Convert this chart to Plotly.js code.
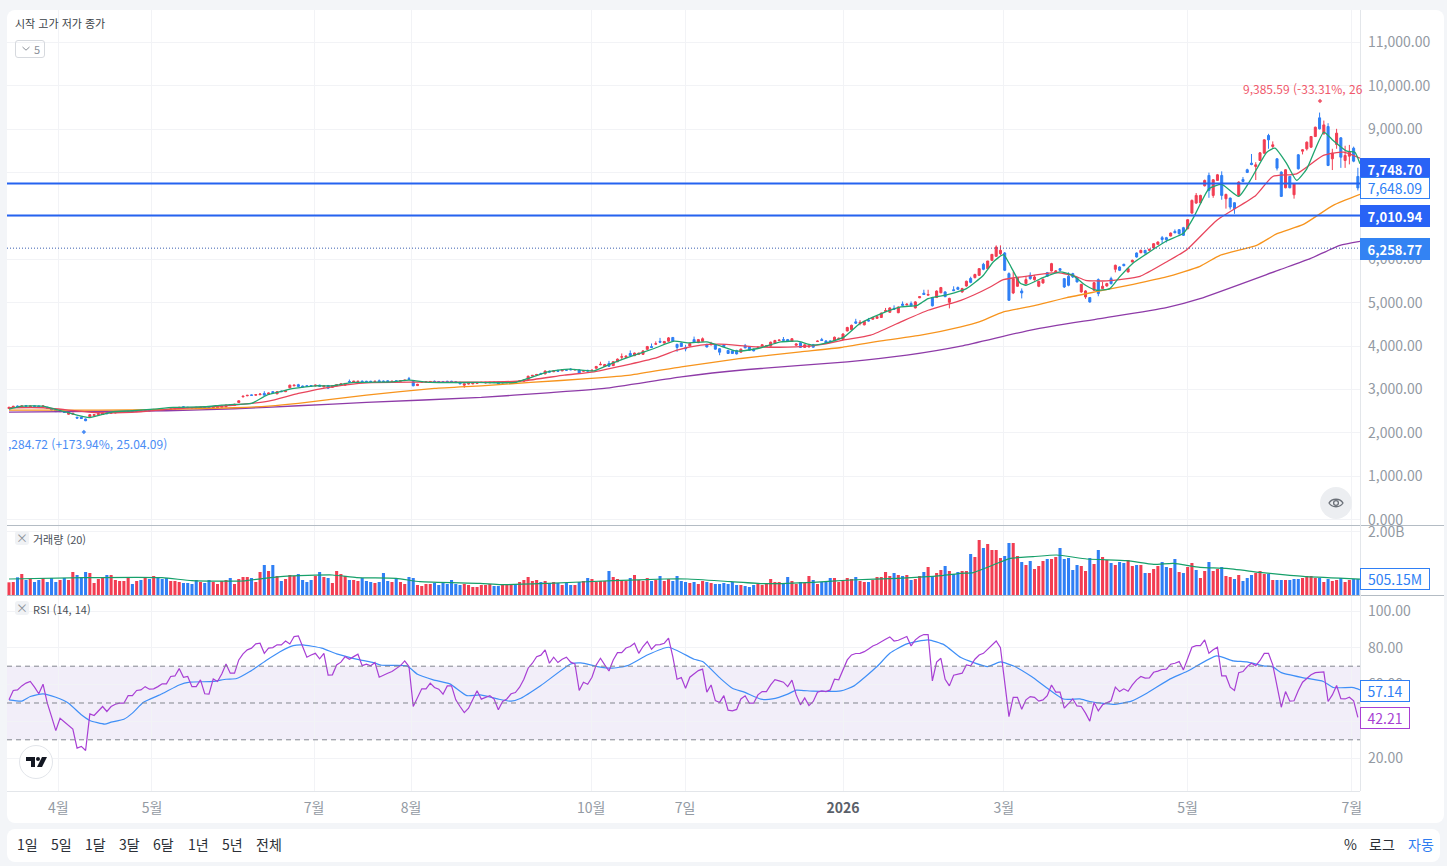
<!DOCTYPE html>
<html lang="ko">
<head>
<meta charset="utf-8">
<title>차트</title>
<script src="https://cdn.plot.ly/plotly-3.0.1.min.js"></script>
<style>
  html, body { margin: 0; padding: 0; background: #f3f5f8; width: 1447px; height: 866px; overflow: hidden; font-family: "Noto Sans CJK KR", "Noto Sans", sans-serif; }
  .panel { position: absolute; background: #fff; border-radius: 8px; }
  #chart { position: absolute; left: 0; top: 0; width: 1447px; height: 866px; }
  .btn { position: absolute; top: 835px; font-size: 14px; line-height: 18px; color: #2b2f36; }
  .chip { position: absolute; left: 15px; width: 14px; height: 14px; background: #f0f2f5; border-radius: 3px; color: #8b9098; font-size: 12px; line-height: 13px; text-align: center; }
  .round { position: absolute; border-radius: 50%; }
  .fold { position: absolute; left: 15px; top: 40px; width: 28px; height: 16px; border: 1px solid #d6d9de; border-radius: 3px; font-size: 11px; line-height: 16px; color: #8b9098; }
  .fold span { position: absolute; left: 18px; top: 0; }
  .fold svg { position: absolute; left: 5px; top: 4px; }
</style>
</head>
<body>
<div class="panel" style="left:7px;top:10px;width:1437px;height:813px"></div>
<div class="panel" style="left:7px;top:829px;width:1433px;height:33px"></div>
<div id="chart"></div>
<div class="fold"><svg width="10" height="8" viewBox="0 0 10 8"><path d="M1.5 2l3.5 3.2L8.5 2" fill="none" stroke="#8b9098" stroke-width="1"/></svg><span>5</span></div>
<div class="chip" style="top:531px">×</div>
<div class="chip" style="top:601px">×</div>
<div class="round" style="left:1320px;top:487px;width:32px;height:32px;background:#eceef1">
  <svg width="32" height="32" viewBox="0 0 32 32"><path d="M9 16c3-5 11-5 14 0c-3 5-11 5-14 0z" fill="none" stroke="#6b7078" stroke-width="1.3"/><circle cx="16" cy="16" r="2.4" fill="none" stroke="#6b7078" stroke-width="1.3"/></svg>
</div>
<div class="round" style="left:19px;top:745px;width:32px;height:32px;background:#fff;border:1px solid #e2e5ea">
  <svg width="32" height="32" viewBox="0 0 32 32"><path d="M6 11h9v10h-4v-6H6z" fill="#131722"/><circle cx="18" cy="13" r="2" fill="#131722"/><path d="M22 11h5l-5 10h-5z" fill="#131722"/></svg>
</div>
<div class="btn" style="left:17px">1일</div>
<div class="btn" style="left:51px">5일</div>
<div class="btn" style="left:85px">1달</div>
<div class="btn" style="left:119px">3달</div>
<div class="btn" style="left:153px">6달</div>
<div class="btn" style="left:188px">1년</div>
<div class="btn" style="left:222px">5년</div>
<div class="btn" style="left:256px">전체</div>
<div class="btn" style="left:1344px">%</div>
<div class="btn" style="left:1369px">로그</div>
<div class="btn" style="left:1408px;color:#2f7df0">자동</div>
<script>
const openPrice = [
  2560,2590,2620,2600,2630,2600,2625,2620,2600,2590, 2560,2530,2490,2500,2430,2430,2360,2360,2320,2370,
  2400,2420,2430,2470,2450,2460,2470,2480,2490,2510, 2490,2520,2510,2530,2520,2540,2545,2540,2530,2550,
  2560,2600,2590,2585,2590,2570,2590,2590,2570,2580, 2590,2600,2650,2630,2700,2830,2855,2875,2870,2880,
  2910,2890,2950,2900,2960,2950,3040,3085,3110,3080, 3085,3090,3080,3100,3060,3090,3050,3085,3100,3100,
  3185,3170,3180,3190,3190,3190,3180,3200,3195,3200, 3180,3200,3190,3205,3250,3180,3090,3170,3170,3165,
  3190,3185,3185,3190,3190,3180,3165,3100,3125,3130,3140,
  3160,3150,3155,3170,3170,3150,3155,3160,3175,3180, 3190,3220,3310,3335,3370,3360,3420,3410,3440,3430,
  3455,3470,3450,3450,3420,3440,3430,3490,3570,3530, 3600,3550,3640,3745,3740,3830,3780,3810,3810,3925,
  3990,4045,4110,4070,4115,4200,4040,4070,3960,4000, 4150,4080,4110,4040,4030,4030,3940,4030,3900,3890,
  3900,3860,4010,3985,3930,3950,4000,3990,4000,4060, 4130,4150,4150,4110,4020,4075,3970,3980,4035,4105,
  4150,4120,4120,4125,4170,4150,4350,4380,4560,4520, 4490,4600,4620,4640,4660,4800,4780,4870,4770,4970,
  4950,4980,4880,5115,5220,5175,5120,5120,5230,5250, 5010,5300,5350,
  5249,5387,5560,5580,5633,5886,5786,5978,6070,6132, 6147,5671,5226,5380,5272,5441,5633,5533,5380,5456,
  5694,5733,5710,5786,5556,5610,5671,5579,5249,5134, 5119,5288,5533,5326,5387,5556,5771,5825,5886,5710,
  5940,6147,6155,6208,6208,6262,6347,6500,6500,6538, 6645,6684,6730,6707,7068,7298,7306,7697,7935,7475,
  7820,7935,7398,7413,7306,7475,7843,8066,8219,8142, 8280,8449,8856,8603,8319,8012,7651,7912,7490,8411,
  8495,8549,8587,8833,9263,8894,9063,8319,8649,8802, 8280,8380,8564,7912
];
const closePrice = [
  2590,2610,2600,2620,2610,2620,2610,2600,2620,2570, 2530,2490,2510,2470,2490,2450,2340,2330,2280,2420,
  2420,2440,2460,2440,2470,2470,2480,2490,2500,2490, 2510,2500,2520,2510,2540,2520,2530,2530,2550,2570,
  2590,2590,2580,2575,2570,2590,2580,2570,2590,2600, 2620,2640,2630,2660,2740,2845,2865,2865,2880,2895,
  2870,2920,2930,2950,2950,2970,3100,3100,3070,3060, 3075,3080,3100,3075,3090,3030,3090,3110,3130,3140,
  3170,3190,3190,3175,3180,3180,3190,3170,3180,3180, 3190,3190,3205,3215,3235,3085,3120,3175,3180,3185,
  3175,3170,3170,3175,3170,3160,3130,3130,3140,3150,3160,
  3165,3165,3165,3160,3130,3160,3165,3170,3160,3200, 3220,3305,3325,3345,3360,3425,3400,3430,3420,3450,
  3445,3455,3460,3375,3435,3425,3445,3530,3580,3575, 3535,3640,3700,3755,3770,3780,3840,3835,3890,3990,
  3970,4055,4090,4105,4190,4110,3970,3990,3940,4060, 4090,4150,4170,3980,4060,3930,3860,3990,3830,3830,
  3820,3930,3960,3905,3890,3960,4030,4010,4090,4130, 4140,4135,4110,4170,4050,3970,4030,4000,3975,4115,
  4130,4070,4085,4205,4180,4280,4430,4480,4530,4550, 4570,4580,4660,4680,4760,4820,4880,4850,4900,4940,
  4965,4930,5020,5140,5190,5190,4930,5270,5350,5140, 5100,5280,5310,
  5326,5495,5470,5650,5786,5771,5963,6116,6285,6208, 5748,5057,5556,5579,5226,5533,5556,5595,5495,5541,
  5610,5902,5733,5748,5364,5403,5595,5480,5426,5272, 5019,5464,5211,5380,5441,5441,5863,5748,5855,5786,
  5978,6055,6208,6147,6232,6362,6400,6460,6454,6607, 6615,6592,6554,6915,7360,7475,7475,7820,7590,7835,
  7950,7475,7498,7206,7168,7782,7797,8004,8188,8180, 8457,8756,8756,8641,8104,7452,8066,7651,7743,8089,
  8526,8702,8833,9048,9010,9101,8165,8449,8910,8357, 8396,8472,8265,7648
];
const highPrice = [
  2600,2625,2630,2635,2640,2635,2635,2630,2630,2600, 2570,2540,2520,2510,2500,2460,2370,2370,2330,2430,
  2435,2470,2470,2480,2480,2480,2490,2500,2510,2520, 2520,2530,2530,2540,2550,2550,2555,2550,2560,2580,
  2600,2610,2600,2595,2600,2600,2600,2600,2600,2610, 2630,2650,2660,2670,2750,2855,2875,2885,2890,2910,
  2960,2930,2960,2960,2975,2985,3110,3110,3130,3090, 3095,3100,3110,3110,3100,3105,3100,3120,3145,3150,
  3230,3200,3200,3210,3200,3200,3200,3230,3205,3210, 3200,3210,3215,3225,3290,3190,3130,3185,3190,3195,
  3205,3195,3195,3200,3200,3190,3175,3135,3150,3160,3170,
  3175,3175,3175,3180,3180,3170,3175,3180,3185,3210, 3235,3320,3335,3360,3385,3440,3435,3445,3455,3465,
  3470,3490,3475,3470,3450,3455,3460,3545,3640,3590, 3660,3655,3715,3830,3785,3900,3850,3850,3905,4005,
  4060,4110,4190,4120,4210,4210,4055,4085,4030,4075, 4220,4165,4200,4055,4100,4045,3955,4045,3915,3905,
  3915,3945,4050,4000,3945,4000,4045,4020,4105,4145, 4150,4210,4165,4185,4065,4090,4045,4040,4050,4130,
  4190,4135,4135,4220,4195,4295,4445,4495,4630,4600, 4585,4650,4675,4695,4775,4880,4895,4940,4915,5030,
  4990,5030,5035,5155,5300,5300,5135,5285,5365,5265, 5115,5380,5375,
  5345,5510,5600,5670,5800,5920,5800,6000,6323,6323, 6170,5700,5710,5595,5330,5610,5700,5640,5510,5560,
  5710,5920,5750,5790,5570,5700,5690,5590,5270,5290, 5130,5480,5560,5480,5460,5600,5880,5840,5900,5800,
  5995,6160,6225,6220,6245,6375,6415,6540,6520,6620, 6690,6700,6750,6930,7380,7530,7490,7840,8000,7850,
  7970,8030,7515,7425,7320,7800,7900,8090,8430,8240, 8475,8770,8895,8720,8330,8030,8080,7925,7760,8430,
  8540,8720,8845,9060,9385,9200,9140,8550,9010,8820, 8620,8640,8600,8112
];
const lowPrice = [
  2550,2580,2590,2590,2600,2590,2600,2590,2590,2560, 2520,2480,2480,2460,2420,2420,2330,2320,2270,2360,
  2390,2410,2420,2430,2440,2450,2460,2470,2480,2480, 2480,2490,2500,2500,2510,2510,2520,2520,2520,2540,
  2550,2580,2570,2565,2560,2560,2570,2560,2560,2570, 2580,2590,2620,2620,2690,2820,2845,2855,2860,2870,
  2860,2880,2920,2890,2940,2940,3030,3075,3060,3050, 3065,3070,3070,3065,3050,3020,3040,3075,3090,3090,
  3160,3160,3170,3165,3170,3170,3170,3160,3170,3170, 3170,3180,3180,3195,3225,3075,3080,3160,3160,3155,
  3165,3160,3160,3165,3160,3150,3120,3040,3115,3120,3130,
  3150,3140,3145,3150,3120,3140,3145,3150,3150,3170, 3180,3210,3300,3325,3350,3350,3390,3400,3410,3420,
  3435,3445,3440,3360,3410,3415,3420,3480,3560,3520, 3525,3540,3630,3690,3730,3770,3770,3800,3800,3915,
  3960,4035,4070,4060,4100,4095,3870,3980,3880,3990, 4080,4070,4100,3970,4020,3920,3790,3980,3820,3820,
  3810,3850,3950,3895,3880,3940,3990,3980,3990,4050, 4120,4125,4100,4100,4010,3960,3960,3970,3965,4095,
  4120,4060,4075,4115,4160,4140,4340,4370,4510,4480, 4480,4570,4610,4630,4650,4790,4770,4840,4760,4930,
  4940,4920,4870,5105,5180,5165,4915,5110,5220,5130, 4870,5270,5300,
  5230,5370,5450,5560,5620,5750,5770,5960,6060,6100, 5730,5040,5200,5370,5100,5420,5530,5510,5360,5440,
  5595,5720,5695,5730,5340,5380,5570,5470,5230,5090, 5000,5270,5150,5320,5370,5420,5700,5730,5840,5700,
  5930,6040,6140,6130,6195,6250,6330,6360,6390,6530, 6600,6570,6540,6690,7050,7280,7290,7680,7420,7420,
  7810,7375,7170,7150,7050,7460,7780,7990,8170,7830, 8270,8435,8550,8570,8050,7440,7640,7640,7400,8070,
  8420,8510,8575,8820,8995,8880,8150,8060,8550,8110, 8110,8190,8240,7590
];

// volume in millions, one entry per bar
const volume = [
  402,413,561,667,476,508,413,476,540,413, 540,413,476,540,476,730,635,571,730,698,
  381,508,571,635,635,476,444,444,571,349, 444,476,571,508,603,571,508,540,444,444,
  413,381,381,349,476,413,381,476,413,349, 444,476,540,349,508,571,571,540,413,730,
  952,762,952,603,444,508,635,603,667,476, 413,476,603,730,571,540,381,762,667,603,
  476,476,444,540,444,413,381,413,698,444, 413,540,413,349,571,540,317,286,349,349,
  381,317,413,349,476,349,317,349,317,254,254,
  317,317,349,286,286,339,339,339,339,413, 476,571,444,476,413,444,381,413,381,317,
  381,317,317,413,444,540,508,413,444,444, 762,571,508,444,444,540,635,476,444,540,
  444,476,603,444,508,444,603,444,413,381, 413,349,444,413,381,349,349,381,349,413,
  317,317,286,254,317,349,317,349,508,413, 413,349,571,444,349,413,381,603,476,349,
  413,413,540,540,413,444,540,508,571,444, 413,413,476,571,571,730,603,698,635,603,
  635,476,508,603,730,889,603,698,794,920, 762,667,730,
  762,762,1301,1206,1746,1492,1619,1428,1428,1174, 1238,1650,1650,1238,1047,952,1079,825,920,1079,
  1143,1143,1206,1492,1143,1174,794,952,920,762, 1174,984,1428,1206,1111,1016,952,1047,1016,1111,
  920,952,952,698,698,825,920,1047,889,857, 1143,730,698,889,1016,794,540,762,1047,762,
  825,889,603,571,508,635,444,540,635,698, 762,667,667,476,476,476,476,476,508,508,
  540,603,603,540,540,413,508,444,476,540, 413,476,508,505.15
];
// r = rising bar, b = falling bar
const volumeSide =
  'rrbrbrbbrb' + 'bbrbrrbbbr' + 'rrrbrrrrrb' + 'rbrbrbbbrr' + 'rbbbbrbbrr' + 'rrbrrrrbrr' +
  'brbrbrrrbb' + 'bbrbrbrrrr' + 'brrbbbrbbb' + 'rbrrbbrrrr' + 'bbbbbbbrrr' + 'r' +
  'rrrbbrrrbr' + 'rrrrbrbrbr' + 'bbrbrbrrrr' + 'brrrrbrrrr' + 'brbrrbbbbr' + 'brrbrbbbbb' +
  'brbbbrrrrr' + 'rbbrrbrrbr' + 'bbbrrrrrbr' + 'rbrrrrrbrb' + 'rbrrbrbrrb' + 'rbb' +
  'rrbrrbrrrr' + 'bbrrbrbrrr' + 'brrbbbbbrr' + 'brbrrbrbbr' + 'rbrbrrrbbr' + 'brbrrbrrbr' +
  'rbrrbrbbbr' + 'rrbrbbrbbb' + 'rrrrbrbrrb' + 'rrbb';

const rsiValues = [
  51.7,56.8,57.1,59.3,60.8,61.7,58.6,55,60.2,49.9, 42.6,35,41.7,39.9,37.6,35.8,25.5,26.4,24.2,44.1,
  43.2,45.7,48.1,45.4,48.1,49.3,49.9,49.9,54,54, 56.8,57.1,58.9,57.5,57.7,58.9,60.4,60.4,64.4,64.7,
  68.7,64,64.4,58.9,58.9,62.6,55,54.8,63.1,61.7, 65.8,71.2,66.2,66.2,73.4,76.7,78.9,79.8,82.1,82.5,
  77,79.8,80.1,81.6,81.6,83.7,82.1,86.1,86.5,80.7, 74.9,76.1,77,74,77,65.1,65.3,70.7,72.2,75.2,
  73.8,75.2,76.5,70.3,71.1,70.2,72,64,65.3,66.2, 67.1,68.5,70.3,72.9,69.8,48.1,52.6,57.7,57.7,60.8,
  58.4,57.5,54.8,59.3,59.3,51.7,48.1,44.8,47.2,52.1,56.6,
  52.1,53.1,54,52.1,46.3,50.8,52.2,55,55.7,58.6, 62.9,68.9,71.6,75.2,76,78.9,71.6,74.9,72,73.8,
  74.9,72.2,71.2,56.8,61.3,60.2,64,70.7,74.3,70.7, 67.4,73.4,77.4,77.4,79.9,80.7,82.5,77,80.7,83.4,
  79.2,81.6,81.7,82.5,85.2,75.2,62.9,63.8,58,64, 65.8,67.6,68.4,55.9,59.8,51.3,50.3,54,46.1,45.7,
  46.5,52.2,53.9,49.9,49.9,54.4,56.2,56.2,59.8,62.7, 62,61.3,58.9,62.4,54.4,49,52.8,48.6,50.8,55.9,
  56.6,56.2,57.1,62.9,62.6,67.6,73.4,76.1,76.9,77, 77.9,79.4,81,81.9,83.4,84.6,85.9,83.7,84.1,85.2,
  86.1,81,84.3,86.1,87.2,87.2,62,72.2,74.3,62.9, 59.3,65.1,65.5,
  66.2,70.7,70.2,73.8,76.1,77,79.2,81.2,83.7,80.1, 60.8,42.6,53.1,53.1,46.6,51.7,53.5,53.1,51,51.7,
  54,59.8,55.9,55.9,47.2,49.9,52.2,48.4,48.1,44.5, 40.1,50.3,45.7,49,49.9,51.2,58.6,56.2,57.7,56.4,
  59.8,62.6,64.4,63.5,63.6,66.7,67.3,68.2,68.4,71.1, 71.6,72.5,68,73.8,80.3,81.2,81.2,84.3,77,78.9,
  80.3,64.7,64.7,58.6,56.8,66.5,67.1,69.8,71.6,70.3, 73.1,77,77,70.7,58.9,47.7,56.2,51,51.2,56.8,
  61.3,63.5,65.3,66.5,66.5,66.9,50.8,54.4,59.5,52.4, 52.2,53.1,51.2,42.21
];
const rsiMaBars = [0,3,5,8,11,14,17,19,22.5,24,27,29,31.6,36,40,42.5,48,51,53.5,56.6,60.6,63.7,66.8,69,73.5,77,82.5,85.6,87.6,93.5,96,99.7,103.6,107.6,110.7,
  115,118,120.3,125,132,134.4,138.3,141.5,145.4,150,155,161,163,167.3,170,172.8,176.7,179.4,183,185,189,195.5,198.6,204,207,211,216,219.8,223.7,
  230,233,236.4,240.3,247.8,251.7,254,259.5,263.8,267.4,272.9,276.8,283.8,287.7,290.9,294.8,297,299,304,308.9,311.2,316,317.5];
const rsiMaValues = [51.7,51,53.5,55,53.1,49.9,43.6,40.5,38.5,39.6,41.2,44.5,50.4,55,59.8,61.3,61.7,62.9,63.3,67.1,73.4,77.9,81.2,81.6,79.8,76.7,73.4,72,70.5,70.2,65.6,62.6,60.4,54,54.4,
  52.1,51,52.6,59.5,71.2,71.8,69.8,68.9,70.3,76.1,80.3,73.8,72.5,63.1,58,55.9,52.1,52.2,54.8,57,56.4,56.6,59.3,69.8,77,82.1,84.3,81.6,74.7,
  69.8,72.3,69.8,64.4,52.2,52.2,50.8,49.3,51,55.3,63.1,67.1,75.6,72.9,72.3,70.2,69.6,66.5,63.8,61.7,58.4,58.4,57.14];

const ma5Bars = [0,3,8,11,14,17.5,19,22,24.5,29,34,38.6,46,50,53,57,60.6,64.5,67,72,76,81,90,94,99,110,
  119,122,126.6,131.7,137.5,142,147,151.6,156.3,159.5,164,167.3,171,176,181.4,185.3,189,193,196.3,200,205,209.6,213.5,216,220.6,
  225,229,231.3,233.7,235.3,237.6,239,243,247,250,253,255.6,258.7,261,264,268,272,276,278.3,282,285,289,291.7,295.6,297.5,300.3,302.6,305,309,311.2,314.4,316.3,317.5];
const ma5Values = [2548,2617,2617,2541,2464,2372,2349,2425,2487,2510,2548,2587,2602,2640,2656,2679,2871,2970,3024,3085,3085,3162,3177,3216,3162,3162,
  3162,3254,3408,3469,3431,3615,3791,3945,4114,4075,4098,3999,3883,3945,4098,4114,4022,4098,4213,4520,4750,4904,4942,5096,5188,
  5326,5633,5940,6109,5863,5456,5403,5579,5710,5633,5403,5288,5326,5595,5902,6170,6423,6600,6950,7628,7728,7452,7820,8472,8564,8204,7820,8089,8933,8741,8495,8472,8204];
const ma20Bars = [0,8,21,31,37,53,61,68,76,84,95,111,121,130.5,137.5,146,151.6,157,162.6,167,176,185,191.6,196,202.5,209.6,216,223.7,
  226.6,230.6,233.7,240.7,246,250,253,258,265.8,272,276.8,283.8,293,297,302.6,308.9,313.6,317.5];
const ma20Values = [2579,2579,2464,2487,2541,2640,2732,2909,3062,3154,3170,3170,3201,3331,3408,3584,3715,3906,4022,4045,3983,3983,4045,4137,4252,4559,4827,5057,
  5173,5364,5533,5633,5694,5633,5518,5503,5610,5940,6224,6899,7475,7912,7974,8396,8472,8334];
const ma60Bars = [0,21,37,53,61,68,84,100,111,122.6,136.8,146,158,172,186,195.5,205,214.3,223.7,228,233.7,240.7,248.6,256.4,264.2,272,279.9,284.6,293.2,298,304.2,311.2,317.5];
const ma60Values = [2525,2525,2541,2579,2617,2679,2871,3024,3085,3162,3254,3331,3523,3715,3868,3968,4121,4252,4444,4559,4789,4927,5119,5272,5426,5595,5840,6094,6324,6592,6807,7245,7498];
const ma120Bars = [0,37,53,68,84,111,126.6,139.9,158,173.6,197,211,223.7,240.7,256.4,272,279.9,298.7,305.8,312.8,317.5];
const ma120Values = [2480,2510,2556,2625,2702,2817,2924,3024,3293,3461,3638,3791,3999,4382,4635,4889,5096,5764,6017,6324,6416];
const volMaBars = [0,17.5,36,43,55,60,64.5,76,81.7,91,96.6,110.7,115.6,126.6,142,154,159.5,169.7,177.5,189,197.9,208.8,219,223.7,226.6,231.3,235.3,240.7,246.2,253.3,262.7,269,273.6,279.9,286,294,298.7,305,317.5];
const volMaValues = [508,550,550,455,444,529,592,635,550,529,423,370,328,370,455,508,508,423,360,402,476,529,614,688,709,952,1164,1217,1270,1143,1090,973,1005,878,846,719,656,582,505];

const priceLevels = [7748.70, 7010.94];
const dottedLevel = 6258.77;
const pinBars = [17.6, 308.1];
const pinValues = [2020, 9650];

const monthTicks = [11.6,33.6,71.7,94.5,136.8,158.9,196,233.8,277,315.6];
const monthLabels = ['4월','5월','7월','8월','10월','7일','<b style="color:#5a6069">2026</b>','3월','5월','7월'];
const priceTicks = [0,1000,2000,3000,4000,5000,6000,7000,8000,9000,10000,11000];
// 7,000 and 8,000 sit under the price tags, only their grid lines show
const priceTickText = ['0.000','1,000.00','2,000.00','3,000.00','4,000.00','5,000.00','6,000.00','','','9,000.00','10,000.00','11,000.00'];
const rsiTicks = [20,40,60,80,100];
const rsiTickText = ['20.00','','60.00','80.00','100.00'];

const W = 1447, H = 866;
const RED = '#f23d52', BLUE = '#2f7ff5';
const tickFont = { family: '"Noto Sans CJK KR","Noto Sans",sans-serif', size: 14, color: '#939aa3' };
const grid = '#f2f3f6';
const bars = closePrice.map((_, i) => i);
const px = v => v / W;
const py = v => 1 - v / H;

const axisX = { range: [-0.47, 317.5], domain: [px(7), px(1360)], tickmode: 'array', tickvals: monthTicks, ticktext: monthLabels,
  showticklabels: false, ticks: '', showgrid: true, gridcolor: grid, zeroline: false, showline: false };
const axisY = { side: 'right', ticks: '', tickmode: 'array', showgrid: true, gridcolor: grid, zeroline: false, showline: false,
  tickfont: tickFont, ticklabelstandoff: 7 };

const maLine = (x, y, color) => ({ type: 'scatter', mode: 'lines', x, y, xaxis: 'x', yaxis: 'y',
  line: { color, width: 1.3, shape: 'spline', smoothing: 0.5 }, hoverinfo: 'skip' });

const traces = [
  maLine(ma120Bars, ma120Values, '#8e3ba8'),
  maLine(ma60Bars, ma60Values, '#f7941d'),
  maLine(ma20Bars, ma20Values, '#e8455c'),
  { type: 'candlestick', x: bars, open: openPrice, high: highPrice, low: lowPrice, close: closePrice, xaxis: 'x', yaxis: 'y',
    whiskerwidth: 0,
    increasing: { line: { color: RED, width: 1 }, fillcolor: RED },
    decreasing: { line: { color: BLUE, width: 1 }, fillcolor: BLUE } },
  maLine(ma5Bars, ma5Values, '#1fa56f'),
  { type: 'scatter', mode: 'markers', x: pinBars, y: pinValues, xaxis: 'x', yaxis: 'y',
    marker: { symbol: 'diamond', size: 3.5, color: ['#4b8df5', '#f0596c'] } },
  { type: 'bar', x: bars, y: volume, xaxis: 'x2', yaxis: 'y2', width: 0.72,
    marker: { color: bars.map(i => volumeSide[i] === 'r' ? RED : BLUE), line: { width: 0 } } },
  { type: 'scatter', mode: 'lines', x: volMaBars, y: volMaValues, xaxis: 'x2', yaxis: 'y2',
    line: { color: '#16a06a', width: 1.2, shape: 'spline', smoothing: 0.5 } },
  { type: 'scatter', mode: 'lines', x: rsiMaBars, y: rsiMaValues, xaxis: 'x3', yaxis: 'y3',
    line: { color: '#3f8ff7', width: 1.2, shape: 'spline', smoothing: 0.5 } },
  { type: 'scatter', mode: 'lines', x: bars, y: rsiValues, xaxis: 'x3', yaxis: 'y3',
    line: { color: '#a83fd4', width: 1.2 } }
];

const levelShape = (y, color, width, dash) => ({ type: 'line', xref: 'paper', yref: 'y', x0: px(7), x1: px(1360), y0: y, y1: y, line: { color, width, dash }, layer: 'above' });
const rsiLine = y => ({ type: 'line', xref: 'paper', yref: 'y3', x0: px(7), x1: px(1360), y0: y, y1: y, line: { color: '#83868f', width: 1, dash: '5px,4px' }, layer: 'above' });
const rule = (x0, y0, x1, y1, color) => ({ type: 'line', xref: 'paper', yref: 'paper', x0: px(x0), x1: px(x1), y0: py(y0), y1: py(y1), line: { color, width: 1 }, layer: 'above' });

const shapes = [
  { type: 'rect', xref: 'paper', yref: 'y3', x0: px(7), x1: px(1360), y0: 30, y1: 70, fillcolor: 'rgba(126,87,194,0.1)', line: { width: 0 }, layer: 'below' },
  rsiLine(70), rsiLine(50), rsiLine(30),
  levelShape(priceLevels[0], '#2563f0', 2, 'solid'),
  levelShape(priceLevels[1], '#2563f0', 2, 'solid'),
  levelShape(dottedLevel, '#3a5fb0', 1, '1px,2px'),
  rule(7, 525.5, 1444, 525.5, '#b4bcc4'),
  rule(7, 595.5, 1444, 595.5, '#b4bcc4'),
  rule(7, 791.5, 1360, 791.5, '#e3e6ea'),
  rule(1360.5, 10, 1360.5, 791, '#e3e6ea')
];

const font = (size, color) => ({ family: '"Noto Sans CJK KR","Noto Sans",sans-serif', size, color });
const note = (text, x, y, size, color, extra) => Object.assign({ text, x: px(x), y: py(y), xref: 'paper', yref: 'paper',
  xanchor: 'left', yanchor: 'middle', showarrow: false, font: font(size, color) }, extra);
const tag = (text, y, width, bg, border, color, size) => note(text, 1360, y, size || 14, color, { width, height: 20, align: 'center',
  bgcolor: bg, bordercolor: border, borderwidth: 1, borderpad: 0 });

const annotations = [
  note('시작 고가 저가 종가', 13, 23, 11, '#3a3f47'),
  note('거래량 (20)', 31, 538.5, 11, '#4a4f57'),
  note('RSI (14, 14)', 31, 608.5, 11, '#4a4f57'),
  note('9,385.59 (-33.31%, 26', 1241, 88.5, 12, '#f0596c'),
  note(',284.72 (+173.94%, 25.04.09)', 6, 443.5, 12, '#4b8df5'),
  tag('<b>7,748.70</b>', 169, 68, '#2963f6', '#2963f6', '#ffffff', 13),
  tag('7,648.09', 188, 68, '#ffffff', BLUE, BLUE),
  tag('<b>7,010.94</b>', 216, 68, '#2963f6', '#2963f6', '#ffffff', 13),
  tag('<b>6,258.77</b>', 249, 68, '#3383f3', '#3383f3', '#ffffff', 13),
  tag('505.15M', 578.5, 68, '#ffffff', BLUE, BLUE),
  tag('57.14', 691, 48, '#ffffff', BLUE, BLUE),
  tag('42.21', 717.5, 48, '#ffffff', '#a83fd4', '#a83fd4')
];

const layout = {
  width: W, height: H, autosize: false,
  margin: { l: 0, r: 0, t: 0, b: 0, pad: 0 },
  paper_bgcolor: 'rgba(0,0,0,0)', plot_bgcolor: 'rgba(0,0,0,0)',
  showlegend: false, hovermode: false, boxgap: 0.32,
  xaxis: Object.assign({}, axisX, { anchor: 'y', rangeslider: { visible: false } }),
  xaxis2: Object.assign({}, axisX, { anchor: 'y2' }),
  xaxis3: Object.assign({}, axisX, { anchor: 'y3', showticklabels: true, tickfont: tickFont, ticklabelstandoff: 7 }),
  yaxis: Object.assign({}, axisY, { anchor: 'x', domain: [py(525), py(10)], range: [-124.5, 11750], tickvals: priceTicks, ticktext: priceTickText }),
  yaxis2: Object.assign({}, axisY, { anchor: 'x2', domain: [py(595), py(526)], range: [0, 2190], tickvals: [2000], ticktext: ['2.00B'] }),
  yaxis3: Object.assign({}, axisY, { anchor: 'x3', domain: [py(791), py(596)], range: [2.17, 108.15], tickvals: rsiTicks, ticktext: rsiTickText }),
  shapes, annotations
};

Plotly.newPlot('chart', traces, layout, { staticPlot: true, displayModeBar: false });
</script>
</body>
</html>
